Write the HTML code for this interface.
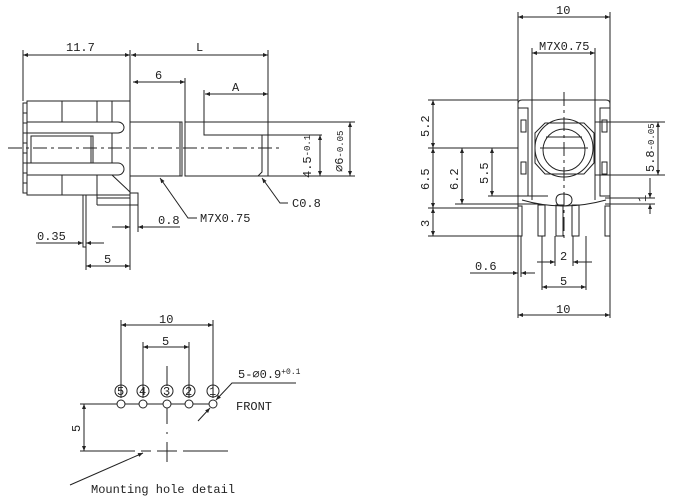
<!DOCTYPE html>
<html><head><meta charset="utf-8"><style>
html,body{margin:0;padding:0;background:#fff;}
svg{display:block;}
text{font-family:"Liberation Mono","DejaVu Sans Mono",monospace;font-size:12px;fill:#222;}
</style></head><body>
<svg width="680" height="502" viewBox="0 0 680 502" xmlns="http://www.w3.org/2000/svg">
<defs>
<marker id="a" viewBox="0 0 10 10" refX="10" refY="5" markerWidth="7" markerHeight="5" orient="auto-start-reverse"><path d="M0,1 L10,5 L0,9z" fill="#222"/></marker>
</defs>
<g stroke="#222" stroke-width="1" fill="none">
<!-- LEFT VIEW -->
<line x1="23" y1="50" x2="23" y2="101"/>
<line x1="130" y1="50" x2="130" y2="270"/>
<line x1="268" y1="50" x2="268" y2="176"/>
<line x1="23" y1="55" x2="130" y2="55" marker-start="url(#a)" marker-end="url(#a)"/>
<line x1="131" y1="55" x2="268" y2="55" marker-start="url(#a)" marker-end="url(#a)"/>
<line x1="185" y1="78" x2="185" y2="176"/>
<line x1="133" y1="82" x2="185" y2="82" marker-start="url(#a)" marker-end="url(#a)"/>
<polyline points="204,90 204,135 322,135"/>
<line x1="205" y1="94" x2="268" y2="94" marker-start="url(#a)" marker-end="url(#a)"/>
<rect x="27" y="101" width="103" height="94"/>
<rect x="23" y="103" width="4" height="90"/>
<line x1="23" y1="113" x2="27" y2="113"/><line x1="23" y1="123" x2="27" y2="123"/><line x1="23" y1="133" x2="27" y2="133"/><line x1="23" y1="143" x2="27" y2="143"/><line x1="23" y1="153" x2="27" y2="153"/><line x1="23" y1="163" x2="27" y2="163"/><line x1="23" y1="173" x2="27" y2="173"/><line x1="23" y1="183" x2="27" y2="183"/>
<line x1="62" y1="101" x2="62" y2="122"/><line x1="97" y1="101" x2="97" y2="122"/><line x1="112" y1="101" x2="112" y2="122"/>
<line x1="62" y1="175" x2="62" y2="195"/><line x1="97" y1="175" x2="97" y2="205"/>
<path d="M27,122 H118 A6,5.5 0 0 1 118,133 H27"/>
<path d="M27,163 H118 A6,6 0 0 1 118,175 H27"/>
<rect x="31" y="136" width="62" height="27"/>
<line x1="91" y1="136" x2="91" y2="163"/>
<line x1="112" y1="133" x2="112" y2="163"/>
<line x1="112" y1="175" x2="130" y2="192"/>
<polyline points="97,205 130,205"/>
<polyline points="97,198 130,198"/>
<rect x="130" y="193" width="8" height="12"/>
<line x1="138" y1="205" x2="138" y2="232"/>
<rect x="83" y="195" width="3" height="52"/>
<rect x="130" y="122" width="52" height="54"/>
<line x1="180" y1="122" x2="180" y2="176"/>
<rect x="185" y="122" width="83" height="54"/>
<line x1="268" y1="122" x2="355" y2="122"/>
<path d="M262,135 V172 L258,176 H355"/>
<line x1="8" y1="148" x2="282" y2="148" stroke-dasharray="14,4,3,4"/>
<line x1="320" y1="135" x2="320" y2="176" marker-start="url(#a)" marker-end="url(#a)"/>
<line x1="350" y1="122" x2="350" y2="176" marker-start="url(#a)" marker-end="url(#a)"/>
<polyline points="160,178 188,218 197,218" marker-start="url(#a)"/>
<polyline points="262,178 280,203 288,203" marker-start="url(#a)"/>
<line x1="112" y1="227" x2="130" y2="227" marker-end="url(#a)"/>
<line x1="138" y1="227" x2="180" y2="227" marker-start="url(#a)"/>
<line x1="36" y1="243" x2="83" y2="243" marker-end="url(#a)"/>
<line x1="86" y1="243" x2="104" y2="243" marker-start="url(#a)"/>
<line x1="86" y1="247" x2="86" y2="270"/>
<line x1="86" y1="266" x2="130" y2="266" marker-start="url(#a)" marker-end="url(#a)"/>

<!-- RIGHT VIEW -->
<line x1="518" y1="12" x2="518" y2="318"/>
<line x1="610" y1="12" x2="610" y2="318"/>
<line x1="518" y1="17" x2="610" y2="17" marker-start="url(#a)" marker-end="url(#a)"/>
<line x1="532" y1="48" x2="532" y2="200"/>
<line x1="595" y1="48" x2="595" y2="200"/>
<line x1="532" y1="53" x2="595" y2="53" marker-start="url(#a)" marker-end="url(#a)"/>
<path d="M518,200 V104 Q518,100 522,100 H606 Q610,100 610,104 V200"/>
<path d="M522,200 Q563,212 606,200"/>
<rect x="518" y="108" width="10" height="88"/><rect x="600" y="108" width="10" height="88"/>
<rect x="521" y="120" width="5" height="12"/><rect x="521" y="162" width="5" height="12"/>
<rect x="602" y="120" width="5" height="12"/><rect x="602" y="162" width="5" height="12"/>
<path d="M545,123 H584 L594,133 V163 L584,174 H545 L535,163 V133Z"/>
<circle cx="564" cy="148" r="29"/>
<circle cx="564" cy="150" r="21"/>
<line x1="546" y1="137" x2="582" y2="137"/>
<line x1="564" y1="92" x2="564" y2="240" stroke-dasharray="14,4,3,4"/>
<line x1="540" y1="148" x2="588" y2="148"/>
<line x1="428" y1="100" x2="518" y2="100"/>
<line x1="428" y1="148" x2="518" y2="148"/>
<line x1="428" y1="208" x2="518" y2="208"/>
<line x1="428" y1="236" x2="518" y2="236"/>
<line x1="455" y1="204" x2="540" y2="204"/>
<line x1="488" y1="196" x2="548" y2="196"/>
<line x1="433" y1="100" x2="433" y2="148" marker-start="url(#a)" marker-end="url(#a)"/>
<line x1="433" y1="148" x2="433" y2="208" marker-start="url(#a)" marker-end="url(#a)"/>
<line x1="433" y1="208" x2="433" y2="236" marker-start="url(#a)" marker-end="url(#a)"/>
<line x1="462" y1="148" x2="462" y2="204" marker-start="url(#a)" marker-end="url(#a)"/>
<line x1="492" y1="148" x2="492" y2="196" marker-start="url(#a)" marker-end="url(#a)"/>
<line x1="595" y1="122" x2="665" y2="122"/>
<line x1="595" y1="175" x2="665" y2="175"/>
<line x1="658" y1="122" x2="658" y2="175" marker-start="url(#a)" marker-end="url(#a)"/>
<line x1="605" y1="198" x2="655" y2="198"/><line x1="605" y1="204" x2="655" y2="204"/>
<line x1="650" y1="178" x2="650" y2="198" marker-end="url(#a)"/>
<line x1="650" y1="204" x2="650" y2="214" marker-start="url(#a)"/>
<path d="M518,206 H522 V236 H518"/>
<path d="M605,206 H610 V236 H605 Z"/>
<rect x="538" y="205" width="7" height="31"/>
<rect x="572" y="205" width="7" height="31"/>
<rect x="556" y="205" width="7" height="31"/>
<path d="M556,200 Q556,194 563,194 Q572,194 572,200 Q572,206 563,206 Q556,206 556,200"/>
<line x1="518" y1="236" x2="518" y2="277"/><line x1="521" y1="236" x2="521" y2="277"/>
<line x1="470" y1="273" x2="518" y2="273" marker-end="url(#a)"/>
<line x1="521" y1="273" x2="535" y2="273" marker-start="url(#a)"/>
<line x1="542" y1="236" x2="542" y2="290"/><line x1="586" y1="236" x2="586" y2="290"/>
<line x1="555" y1="236" x2="555" y2="266"/><line x1="573" y1="236" x2="573" y2="266"/>
<line x1="537" y1="262" x2="555" y2="262" marker-end="url(#a)"/>
<line x1="573" y1="262" x2="592" y2="262" marker-start="url(#a)"/>
<line x1="542" y1="287" x2="586" y2="287" marker-start="url(#a)" marker-end="url(#a)"/>
<line x1="518" y1="315" x2="610" y2="315" marker-start="url(#a)" marker-end="url(#a)"/>

<!-- BOTTOM -->
<line x1="121" y1="320" x2="121" y2="398"/>
<line x1="213" y1="320" x2="213" y2="398"/>
<line x1="121" y1="325" x2="213" y2="325" marker-start="url(#a)" marker-end="url(#a)"/>
<line x1="143" y1="342" x2="143" y2="398"/>
<line x1="189" y1="342" x2="189" y2="398"/>
<line x1="143" y1="347" x2="189" y2="347" marker-start="url(#a)" marker-end="url(#a)"/>
<line x1="167" y1="366" x2="167" y2="470" stroke-dasharray="20,8,2,8"/>
<line x1="80" y1="404" x2="213" y2="404"/>
<line x1="80" y1="451" x2="228" y2="451" stroke-dasharray="55,6,10,6,20,6"/>
<line x1="84" y1="404" x2="84" y2="451" marker-start="url(#a)" marker-end="url(#a)"/>
<circle cx="121" cy="404" r="4" fill="#fff"/><circle cx="143" cy="404" r="4" fill="#fff"/><circle cx="167" cy="404" r="4" fill="#fff"/><circle cx="189" cy="404" r="4" fill="#fff"/><circle cx="213" cy="404" r="4" fill="#fff"/>
<circle cx="121" cy="391" r="6"/><circle cx="143" cy="391" r="6"/><circle cx="167" cy="391" r="6"/><circle cx="189" cy="391" r="6"/><circle cx="213" cy="391" r="6"/>
<polyline points="296,383 232,383 216,400" marker-end="url(#a)"/>
<line x1="198" y1="421" x2="210" y2="408" marker-end="url(#a)"/>
<line x1="70" y1="485" x2="143" y2="453" marker-end="url(#a)"/>
</g>
<g>
<text x="66" y="51">11.7</text>
<text x="196" y="51">L</text>
<text x="155" y="79">6</text>
<text x="232" y="91">A</text>
<text x="200" y="222">M7X0.75</text>
<text x="292" y="207">C0.8</text>
<text x="158" y="224">0.8</text>
<text x="37" y="240">0.35</text>
<text x="104" y="263">5</text>
<text x="311" y="178" transform="rotate(-90 311 178)">4.5<tspan font-size="9" dy="-1">-0.1</tspan></text>
<text x="343" y="172" transform="rotate(-90 343 172)">⌀6<tspan font-size="9">-0.05</tspan></text>
<text x="556" y="14">10</text>
<text x="539" y="50">M7X0.75</text>
<text x="429" y="137" transform="rotate(-90 429 137)">5.2</text>
<text x="429" y="190" transform="rotate(-90 429 190)">6.5</text>
<text x="429" y="227" transform="rotate(-90 429 227)">3</text>
<text x="458" y="190" transform="rotate(-90 458 190)">6.2</text>
<text x="488" y="184" transform="rotate(-90 488 184)">5.5</text>
<text x="654" y="172" transform="rotate(-90 654 172)">5.8<tspan font-size="9">-0.05</tspan></text>
<text x="646" y="202" transform="rotate(-90 646 202)">1</text>
<text x="475" y="270">0.6</text>
<text x="560" y="260">2</text>
<text x="560" y="285">5</text>
<text x="556" y="313">10</text>
<text x="159" y="323">10</text>
<text x="162" y="345">5</text>
<text x="80" y="432" transform="rotate(-90 80 432)">5</text>
<text x="117" y="395" font-size="10">5</text><text x="139" y="395" font-size="10">4</text><text x="163" y="395" font-size="10">3</text><text x="185" y="395" font-size="10">2</text><text x="209" y="395" font-size="10">1</text>
<text x="238" y="378">5-⌀0.9<tspan font-size="8" dy="-4">+0.1</tspan></text>
<text x="236" y="410">FRONT</text>
<text x="91" y="493">Mounting hole detail</text>
</g>
</svg>
</body></html>
